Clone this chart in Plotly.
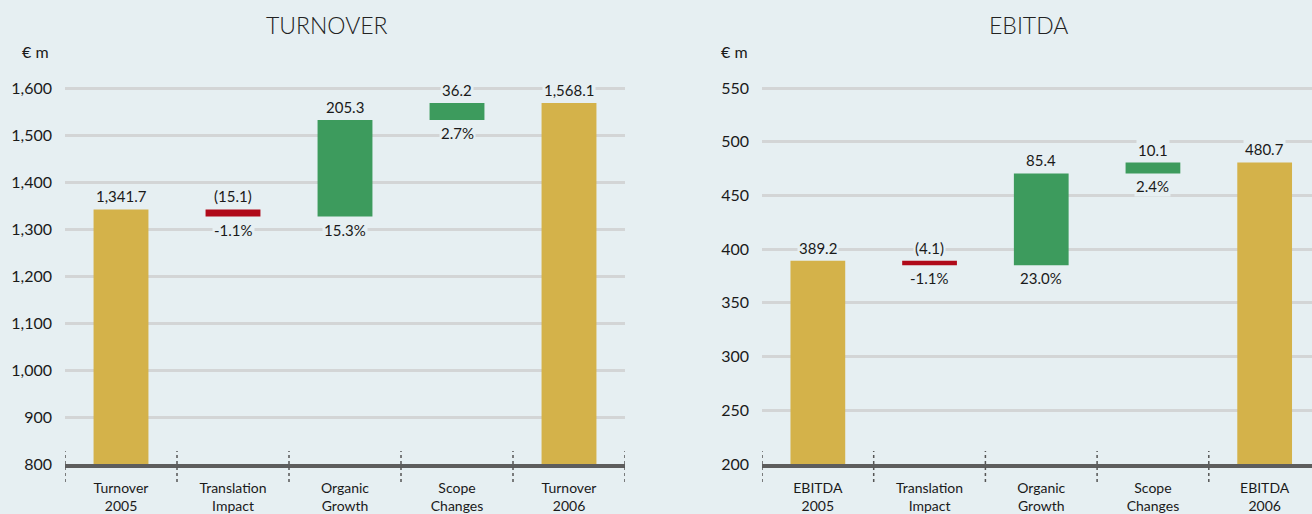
import plotly.graph_objects as go

# ---- data -------------------------------------------------------------
turnover_labels = ["Turnover<br>2005", "Translation<br>Impact", "Organic<br>Growth",
                   "Scope<br>Changes", "Turnover<br>2006"]
turnover_start = 1341.7
turnover_deltas = [-15.1, 205.3, 36.2]
turnover_end = 1568.1
turnover_pct = ["-1.1%", "15.3%", "2.7%"]
turnover_ticks = [800, 900, 1000, 1100, 1200, 1300, 1400, 1500, 1600]

ebitda_labels = ["EBITDA<br>2005", "Translation<br>Impact", "Organic<br>Growth",
                 "Scope<br>Changes", "EBITDA<br>2006"]
ebitda_start = 389.2
ebitda_deltas = [-4.1, 85.4, 10.1]
ebitda_end = 480.7
ebitda_pct = ["-1.1%", "23.0%", "2.4%"]
ebitda_ticks = [200, 250, 300, 350, 400, 450, 500, 550]

# ---- style ------------------------------------------------------------
BG = "#e6eff2"
GOLD = "#d4b24a"
GREEN = "#3d9b5d"
RED = "#b00a1a"
GRID = "#d3d5d6"
TEXT = "#1a1a1a"
FONT = "Lato"
W, H = 1312, 514

fig = go.Figure()
annotations = []
shapes = []


def fmt(v):
    return f"{v:,.1f}"


def add_panel(xa, ya, labels, start, deltas, end, pct):
    xs = list(range(len(labels)))
    # start / end totals
    fig.add_trace(go.Bar(x=[xs[0], xs[-1]], y=[start, end], width=0.49,
                         marker=dict(color=GOLD, line=dict(width=0)),
                         xaxis=xa, yaxis=ya, showlegend=False, hoverinfo="skip"))
    # floating change bars
    running = start
    bases, colors = [], []
    for d in deltas:
        bases.append(running)
        colors.append(GREEN if d >= 0 else RED)
        running += d
    fig.add_trace(go.Bar(x=xs[1:-1], y=deltas, base=bases, width=0.49,
                         marker=dict(color=colors, line=dict(width=0)),
                         xaxis=xa, yaxis=ya, showlegend=False, hoverinfo="skip"))

    xref, yref = xa, ya
    lab_font = dict(family=FONT, size=15, color=TEXT)
    # value labels on the totals
    for x, v in ((xs[0], start), (xs[-1], end)):
        annotations.append(dict(x=x, y=v, xref=xref, yref=yref, text=fmt(v),
                                showarrow=False, yanchor="bottom", yshift=2,
                                font=lab_font, bgcolor=BG, borderpad=1))
    # change labels above, percentages below
    for i, (b, d, p) in enumerate(zip(bases, deltas, pct)):
        top, bot = max(b, b + d), min(b, b + d)
        txt = fmt(d) if d >= 0 else f"({fmt(-d)})"
        annotations.append(dict(x=xs[i + 1], y=top, xref=xref, yref=yref, text=txt,
                                showarrow=False, yanchor="bottom", yshift=2,
                                font=lab_font, bgcolor=BG, borderpad=1))
        annotations.append(dict(x=xs[i + 1], y=bot, xref=xref, yref=yref, text=p,
                                showarrow=False, yanchor="top", yshift=-2,
                                font=lab_font, bgcolor=BG, borderpad=1))
    # dotted category separators crossing the baseline
    for k in range(len(labels) + 1):
        shapes.append(dict(type="line", xref=xref, yref="paper",
                           x0=k - 0.5, x1=k - 0.5, y0=32 / H, y1=63 / H,
                           line=dict(color="#555555", width=1.5, dash="dot")))


add_panel("x", "y", turnover_labels, turnover_start, turnover_deltas,
          turnover_end, turnover_pct)
add_panel("x2", "y2", ebitda_labels, ebitda_start, ebitda_deltas,
          ebitda_end, ebitda_pct)

# panel titles and unit labels
title_font = dict(family=FONT, size=23, color="#222222", weight=300)
annotations += [
    dict(x=327 / W, y=1 - 25 / H, xref="paper", yref="paper", text="TURNOVER",
         showarrow=False, font=title_font, xanchor="center", yanchor="middle"),
    dict(x=1028 / W, y=1 - 25 / H, xref="paper", yref="paper", text="EBITDA",
         showarrow=False, font=title_font, xanchor="center", yanchor="middle"),
    dict(x=35 / W, y=1 - 52 / H, xref="paper", yref="paper", text="€ m",
         showarrow=False, font=dict(family=FONT, size=16, color=TEXT),
         xanchor="center", yanchor="middle"),
    dict(x=734 / W, y=1 - 52 / H, xref="paper", yref="paper", text="€ m",
         showarrow=False, font=dict(family=FONT, size=16, color=TEXT),
         xanchor="center", yanchor="middle"),
]

plot_bottom = 50 / H
px_per_unit_t = 0.47
px_per_unit_e = 376 / 350
plot_h = H - 50

xcommon = dict(showgrid=False, zeroline=False, showline=True, linecolor="#5d5d5d",
               linewidth=4, ticks="", tickmode="array", tickvals=list(range(5)),
               tickfont=dict(family=FONT, size=14, color=TEXT),
               ticklabelstandoff=8, fixedrange=True)
ycommon = dict(showgrid=True, gridcolor=GRID, gridwidth=3, zeroline=False,
               showline=False, ticks="", tickmode="array", tickformat=",",
               tickfont=dict(family=FONT, size=16, color=TEXT),
               ticklabelstandoff=12, fixedrange=True)

fig.update_layout(
    width=W, height=H,
    margin=dict(l=0, r=0, t=0, b=0, autoexpand=False),
    paper_bgcolor=BG, plot_bgcolor=BG,
    barmode="overlay", showlegend=False,
    xaxis=dict(xcommon, domain=[65 / W, 625 / W], range=[-0.5, 4.5],
               ticktext=turnover_labels, anchor="y"),
    yaxis=dict(ycommon, domain=[plot_bottom, 1], tickvals=turnover_ticks,
               range=[800, 800 + plot_h / px_per_unit_t], anchor="x"),
    xaxis2=dict(xcommon, domain=[762 / W, 1], range=[-0.5, (W - 762) / 111.7 - 0.5],
                ticktext=ebitda_labels, anchor="y2"),
    yaxis2=dict(ycommon, domain=[plot_bottom, 1], tickvals=ebitda_ticks,
                range=[200, 200 + plot_h / px_per_unit_e], anchor="x2"),
    annotations=annotations,
    shapes=shapes,
)

fig.write_html("out.html")
